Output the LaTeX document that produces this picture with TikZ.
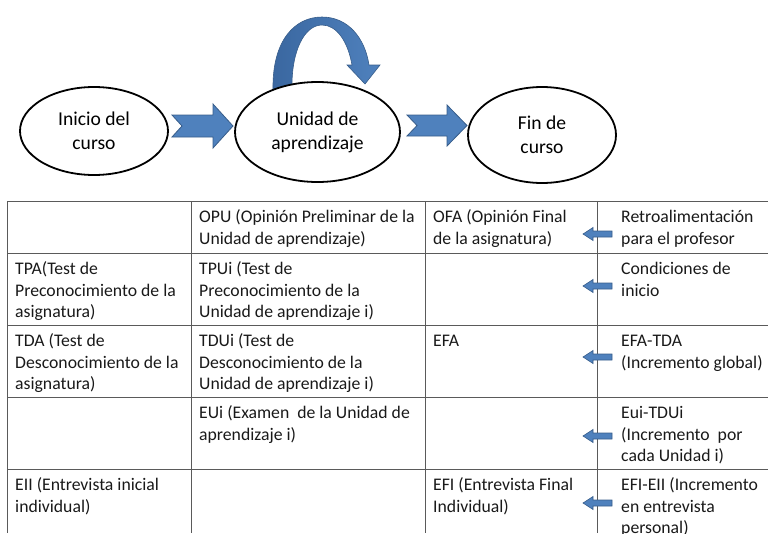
\documentclass[tikz,border=0pt]{standalone}
\usepackage{fontspec}
\setmainfont{Carlito}
\usetikzlibrary{shapes.geometric}
\definecolor{ablue}{HTML}{4F81BD}
\definecolor{adark}{HTML}{385D8A}
\definecolor{arcleft}{HTML}{3A67A0}
\definecolor{rulegray}{HTML}{5A5A5A}
\begin{document}
\begin{tikzpicture}[x=1pt,y=-1pt,
  stage/.style={ellipse, draw=black, fill=white, line width=1.8pt, align=center, inner sep=0pt,
    font=\fontsize{19.6}{24}\selectfont},
  cell/.style={anchor=north west, inner sep=0pt, align=left,
    font=\fontsize{17.7}{21.7}\selectfont, text=black!90},
  block/.style={fill=ablue, draw=adark, line width=0.8pt, line join=miter},
  tablerule/.style={draw=rulegray, line width=0.9pt},
  larrow/.pic={\path[block, line width=0.6pt] (0,0) -- (10,-6.5) -- (10,-3) -- (29,-3) -- (29,3) -- (10,3) -- (10,6.5) -- cycle;}
]
\useasboundingbox (0,0) rectangle (768,533);

% loop arrow over the learning unit
\path[left color=arcleft, right color=ablue, draw=adark, line width=0.6pt]
  (273,90) .. controls (272,40) and (295,17) .. (322,17)
  .. controls (348,17) and (365,38) .. (369,65) -- (380,65) -- (365,84) -- (347,65) -- (352,65)
  .. controls (348,42) and (337,25) .. (322,25)
  .. controls (305,25) and (291,50) .. (292,90) -- cycle;

% stages
\node[stage, minimum width=148pt, minimum height=88pt] (ini) at (94,131) {Inicio del\\curso};
\node[stage, minimum width=165pt, minimum height=100pt] (uni) at (317.5,132) {Unidad de\\aprendizaje};
\node[stage, minimum width=148pt, minimum height=96pt] (fin) at (542,135) {Fin de\\curso};

% block arrows between stages
\path[block] (172,115) -- (213,115) -- (213,104) -- (233,126) -- (213,148) -- (213,137) -- (172,137) -- (182,126) -- cycle;
\path[block] (407,115) -- (447,115) -- (447,105) -- (467,125.5) -- (447,146) -- (447,136) -- (407,136) -- (417,125.5) -- cycle;

% table rules
\foreach \yy in {201,253,325,397,469} \draw[tablerule] (7,\yy) -- (768,\yy);
\foreach \xx in {7,191.5,425.5,597} \draw[tablerule] (\xx,201) -- (\xx,533);

% row 1
\node[cell] (opu) at (199,207) {\strut OPU (Opinión Preliminar de la\\Unidad de aprendizaje)};
\node[cell] (ofa) at (433,207) {\strut OFA (Opinión Final\\de la asignatura)};
\node[cell] (retro) at (621,207) {\strut Retroalimentación\\para el profesor};
% row 2
\node[cell] (tpa) at (15,259) {\strut TPA(Test de\\Preconocimiento de la\\asignatura)};
\node[cell] (tpui) at (199,259) {\strut TPUi (Test de\\Preconocimiento de la\\Unidad de aprendizaje i)};
\node[cell] (cond) at (621,259) {\strut Condiciones de\\inicio};
% row 3
\node[cell] (tda) at (15,331) {\strut TDA (Test de\\Desconocimiento de la\\asignatura)};
\node[cell] (tdui) at (199,331) {\strut TDUi (Test de\\Desconocimiento de la\\Unidad de aprendizaje i)};
\node[cell] (efa) at (433,331) {\strut EFA};
\node[cell] (efatda) at (621,331) {\strut EFA-TDA\\(Incremento global)};
% row 4
\node[cell] (eui) at (199,403) {\strut EUi (Examen\ \ de la Unidad de\\aprendizaje i)};
\node[cell] (euitdui) at (621,403) {\strut Eui-TDUi\\(Incremento\ \ por\\cada Unidad i)};
% row 5
\node[cell] (eii) at (15,475) {\strut EII (Entrevista inicial\\individual)};
\node[cell] (efi) at (433,475) {\strut EFI (Entrevista Final\\Individual)};
\node[cell] (efieii) at (621,475) {\strut EFI-EII (Incremento\\en entrevista\\personal)};

% small left arrows
\pic at (583,234) {larrow};
\pic at (583,286) {larrow};
\pic at (583,357) {larrow};
\pic at (583,436) {larrow};
\pic at (583,503) {larrow};
\end{tikzpicture}
\end{document}
